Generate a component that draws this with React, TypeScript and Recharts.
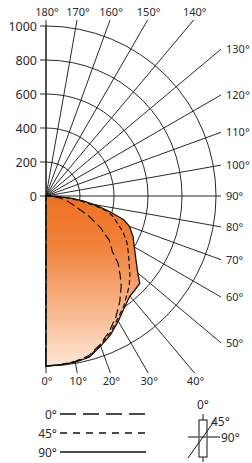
import {
  RadarChart,
  Radar,
  PolarGrid,
  PolarAngleAxis,
  PolarRadiusAxis,
  Legend,
} from "recharts";

// angle from nadir: 0 = straight down, 90 = horizontal, 180 = straight up
const angles = [0, 5, 10, 15, 20, 25, 30, 35, 40, 43, 47, 50, 55, 60, 65, 70, 73, 76, 79, 82, 85, 88, 90];
const plane0 = [1000, 995, 988, 972, 930, 880, 822, 757, 688, 640, 580, 510, 455, 368, 276, 190, 160, 130, 105, 75, 45, 18, 0];
const plane45 = [1000, 996, 990, 978, 935, 890, 838, 795, 745, 718, 675, 640, 592, 550, 500, 440, 412, 370, 288, 205, 140, 60, 0];
const plane90 = [1000, 997, 992, 982, 940, 900, 850, 803, 768, 762, 754, 705, 645, 600, 565, 522, 478, 390, 312, 230, 155, 62, 0];

const radiusTicks = [0, 200, 400, 600, 800, 1000];
const angleTicks = [0, 10, 20, 30, 40, 50, 60, 70, 80, 90, 100, 110, 120, 130, 140, 150, 160, 170, 180];
const legendNames = ["0°", "45°", "90°"];

const data = angles.map((a, i) => ({
  angle: a,
  c0: plane0[i],
  c45: plane45[i],
  c90: plane90[i],
}));

const W = 252;
const H = 463;
const CX = 46;
const CY = 196;
const R = 170;
const RMAX = 1000;
const BOX_RIGHT = 221;
const BOX_TOP = 20;
const BOX_BOTTOM = 373;
const FONT = "'Noto Sans', sans-serif";
const TEXT = "#2b2b2b";
const GRID = "#111";

const DASH0 = "9 4";
const DASH45 = "5 3";

function AngleTick(props: any) {
  const theta = Number(props.payload.value);
  const rad = (theta * Math.PI) / 180;
  const sx = Math.sin(rad);
  const sy = Math.cos(rad);
  let t = Infinity;
  let side = "right";
  if (sx > 1e-6 && (BOX_RIGHT - CX) / sx < t) {
    t = (BOX_RIGHT - CX) / sx;
    side = "right";
  }
  if (sy < -1e-6 && (BOX_TOP - CY) / sy < t) {
    t = (BOX_TOP - CY) / sy;
    side = "top";
  }
  if (sy > 1e-6 && (BOX_BOTTOM - CY) / sy < t) {
    t = (BOX_BOTTOM - CY) / sy;
    side = "bottom";
  }
  const x1 = CX + R * sx;
  const y1 = CY + R * sy;
  const x2 = CX + t * sx;
  const y2 = CY + t * sy;
  let tx = x2 + 5;
  let ty = y2 + 4;
  let anchor = "start";
  if (side === "top") {
    tx = x2 + 1;
    ty = y2 - 4;
    anchor = "middle";
  } else if (side === "bottom") {
    tx = x2 + 1;
    ty = y2 + 12;
    anchor = "middle";
  }
  return (
    <g>
      <line x1={x1} y1={y1} x2={x2} y2={y2} stroke={GRID} strokeWidth={0.9} />
      <text x={tx} y={ty} textAnchor={anchor} fontSize={11} fontFamily={FONT} fill={TEXT}>
        {theta}°
      </text>
    </g>
  );
}

function RadiusTick(props: any) {
  const { x, y, payload, hideZero } = props;
  if (hideZero && payload.value === 0) return <g />;
  return (
    <g>
      <line x1={x - 6} y1={y} x2={x} y2={y} stroke={GRID} strokeWidth={0.9} />
      <text x={x - 9} y={y + 4.5} textAnchor="end" fontSize={12.5} fontFamily={FONT} fill={TEXT}>
        {payload.value}
      </text>
    </g>
  );
}

function LegendContent() {
  const rows = [
    { name: legendNames[0], y: 19, dash: "16 7" },
    { name: legendNames[1], y: 38, dash: "7 6" },
    { name: legendNames[2], y: 57, dash: undefined },
  ];
  return (
    <svg width={W} height={68} style={{ display: "block" }}>
      {rows.map((r) => (
        <g key={r.name}>
          <text x={57} y={r.y + 4.5} textAnchor="end" fontSize={12} fontFamily={FONT} fill={TEXT}>
            {r.name}
          </text>
          <line x1={60} y1={r.y} x2={146} y2={r.y} stroke="#111" strokeWidth={1.4} strokeDasharray={r.dash} />
        </g>
      ))}
      <g>
        <line x1={203} y1={19} x2={203} y2={67} stroke="#111" strokeWidth={1} />
        <rect x={199} y={25} width={8} height={37} fill="#fff" stroke="#111" strokeWidth={1} />
        <line x1={188} y1={42} x2={220} y2={42} stroke="#666" strokeWidth={1.6} />
        <line x1={188} y1={63} x2={215} y2={25} stroke="#111" strokeWidth={1} />
        <text x={203} y={14} textAnchor="middle" fontSize={12} fontFamily={FONT} fill={TEXT}>
          {legendNames[0]}
        </text>
        <text x={211} y={31} textAnchor="start" fontSize={12} fontFamily={FONT} fill={TEXT}>
          {legendNames[1]}
        </text>
        <text x={221} y={46.5} textAnchor="start" fontSize={12} fontFamily={FONT} fill={TEXT}>
          {legendNames[2]}
        </text>
      </g>
    </svg>
  );
}

export default function App() {
  const gridRadii = radiusTicks.filter((v) => v > 0).map((v) => (R * v) / RMAX);
  return (
    <div style={{ position: "absolute", left: 0, top: 0, width: W, height: H, background: "#fff" }}>
      <RadarChart
        width={W}
        height={H}
        data={data}
        cx={CX}
        cy={CY}
        outerRadius={R}
        innerRadius={0}
        startAngle={-90}
        endAngle={90}
        margin={{ top: 0, right: 0, bottom: 0, left: 0 }}
      >
        <defs>
          <linearGradient id="lampFill" x1="0" y1="0" x2="0" y2="1">
            <stop offset="0%" stopColor="#EF7020" />
            <stop offset="30%" stopColor="#F1823C" />
            <stop offset="100%" stopColor="#FEE6D5" />
          </linearGradient>
        </defs>
        {gridRadii.map((r) => {
          const c = 2 * Math.PI * r;
          return (
            <PolarGrid
              key={r}
              gridType="circle"
              radialLines={false}
              polarRadius={[r]}
              polarAngles={[]}
              stroke={GRID}
              strokeWidth={0.9}
              strokeDasharray={`${c / 4} ${c / 2} ${c / 4}`}
            />
          );
        })}
        <PolarGrid gridType="circle" polarRadius={[]} stroke={GRID} strokeWidth={0.9} />
        <PolarAngleAxis
          dataKey="angle"
          type="number"
          domain={[0, 180]}
          ticks={angleTicks}
          tickCount={19}
          axisLine={false}
          tickLine={false}
          tick={(p: any) => <AngleTick {...p} />}
        />
        <PolarRadiusAxis
          angle={90}
          domain={[0, RMAX]}
          ticks={radiusTicks}
          tickCount={6}
          axisLine={{ stroke: GRID, strokeWidth: 1 }}
          tick={(p: any) => <RadiusTick {...p} />}
        />
        <PolarRadiusAxis
          radiusAxisId="down"
          angle={270}
          domain={[0, RMAX]}
          ticks={radiusTicks}
          tickCount={6}
          axisLine={{ stroke: GRID, strokeWidth: 1 }}
          tick={(p: any) => <RadiusTick {...p} hideZero />}
        />
        <Radar
          name={legendNames[2]}
          dataKey="c90"
          stroke="#111"
          strokeWidth={1.3}
          fill="url(#lampFill)"
          fillOpacity={1}
          dot={false}
          isAnimationActive={false}
        />
        <Radar
          name={legendNames[1]}
          dataKey="c45"
          stroke="#111"
          strokeWidth={1.2}
          strokeDasharray={DASH45}
          fill="none"
          fillOpacity={0}
          dot={false}
          isAnimationActive={false}
        />
        <Radar
          name={legendNames[0]}
          dataKey="c0"
          stroke="#111"
          strokeWidth={1.2}
          strokeDasharray={DASH0}
          fill="none"
          fillOpacity={0}
          dot={false}
          isAnimationActive={false}
        />
        <Legend
          content={() => <LegendContent />}
          wrapperStyle={{ left: 0, top: 395, width: W, height: 68 }}
        />
      </RadarChart>
    </div>
  );
}
